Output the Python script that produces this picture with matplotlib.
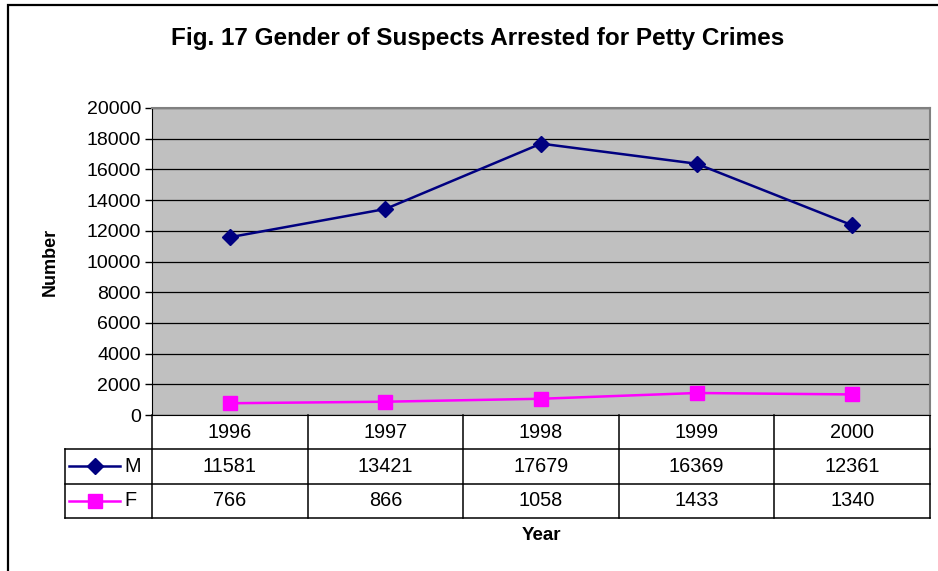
#!/usr/bin/env python3
"""Line chart with data table: gender of suspects arrested for petty crimes."""

import matplotlib
matplotlib.use("Agg")
import matplotlib.pyplot as plt
from matplotlib.patches import Rectangle
from matplotlib.lines import Line2D
import matplotlib.transforms as mtransforms

plt.rcParams["font.family"] = ["Liberation Sans", "DejaVu Sans"]

years = ["1996", "1997", "1998", "1999", "2000"]
male = [11581, 13421, 17679, 16369, 12361]
female = [766, 866, 1058, 1433, 1340]
series = [("M", male, "#000080", "D", 8.5), ("F", female, "#FF00FF", "s", 10)]

W, H = 938, 571
fig = plt.figure(figsize=(W / 100, H / 100), dpi=100)

# outer chart frame (cropped on the right and bottom in the source)
fig.patches.append(Rectangle((8 / W, -0.05), 1.0, 1 - 5 / H + 0.05,
                             transform=fig.transFigure, fill=False,
                             edgecolor="black", linewidth=1.6))

left, right, top, bottom = 152, 930, 108, 415
ax = fig.add_axes([left / W, 1 - bottom / H, (right - left) / W, (bottom - top) / H])
ax.set_facecolor("#C0C0C0")

x = list(range(len(years)))
for name, vals, color, marker, ms in series:
    ax.plot(x, vals, color=color, linewidth=1.8, marker=marker, markersize=ms,
            markerfacecolor=color, markeredgecolor=color, zorder=3)

ax.set_xlim(-0.5, len(years) - 0.5)
ax.set_ylim(0, 20000)
ax.set_yticks(range(0, 20001, 2000))
ax.yaxis.grid(True, color="black", linewidth=0.9)
ax.set_axisbelow(True)
ax.set_xticks([])
ax.tick_params(axis="y", labelsize=14, length=5, width=1, direction="out", pad=3)
for s in ["top", "right"]:
    ax.spines[s].set_color("#808080")
    ax.spines[s].set_linewidth(1.5)
ax.spines["left"].set_color("black")
ax.spines["bottom"].set_color("black")

ax.set_ylabel("Number", fontsize=13, fontweight="bold", labelpad=20)

fig.text(0.5 * (8 + W) / W + 0.005, 1 - 38 / H, "Fig. 17 Gender of Suspects Arrested for Petty Crimes",
         ha="center", va="center", fontsize=17.5, fontweight="bold")

# data table under the plot, columns follow the category axis
trans = mtransforms.blended_transform_factory(ax.transData, ax.transAxes)
ph = bottom - top
row = 34.3 / ph
legend_x = (65 - left) / (right - left)  # axes fraction
cell_fs = 14.3

def line(xs, ys, tr, **kw):
    ax.add_line(Line2D(xs, ys, transform=tr, color="black", linewidth=1.1,
                       clip_on=False, **kw))

for k in range(len(years) + 1):
    line([k - 0.5, k - 0.5], [0, -3 * row], trans)
for r in (1, 2, 3):
    line([legend_x, 1], [-r * row, -r * row], ax.transAxes)
line([legend_x, legend_x], [-row, -3 * row], ax.transAxes)

for i, yr in enumerate(years):
    ax.text(i, -0.5 * row, yr, transform=trans, ha="center", va="center",
            fontsize=cell_fs, clip_on=False)
for r, (name, vals, color, marker, ms) in enumerate(series, start=1):
    yc = -(r + 0.5) * row
    for i, v in enumerate(vals):
        ax.text(i, yc, str(v), transform=trans, ha="center", va="center",
                fontsize=cell_fs, clip_on=False)
    kx0 = legend_x + 4 / (right - left)
    kx1 = legend_x + 55 / (right - left)
    ax.add_line(Line2D([kx0, kx1], [yc, yc], transform=ax.transAxes, color=color,
                       linewidth=1.8, clip_on=False))
    ax.add_line(Line2D([(kx0 + kx1) / 2], [yc], transform=ax.transAxes, color=color,
                       marker=marker, markersize=ms, markerfacecolor=color,
                       markeredgecolor=color, linestyle="none", clip_on=False))
    ax.text(legend_x + 59 / (right - left), yc, name, transform=ax.transAxes,
            ha="left", va="center", fontsize=cell_fs, clip_on=False)

fig.text((left + right) / 2 / W, 1 - 535 / H, "Year", ha="center", va="center",
         fontsize=13.5, fontweight="bold")

fig.savefig("out.png", dpi=100)
